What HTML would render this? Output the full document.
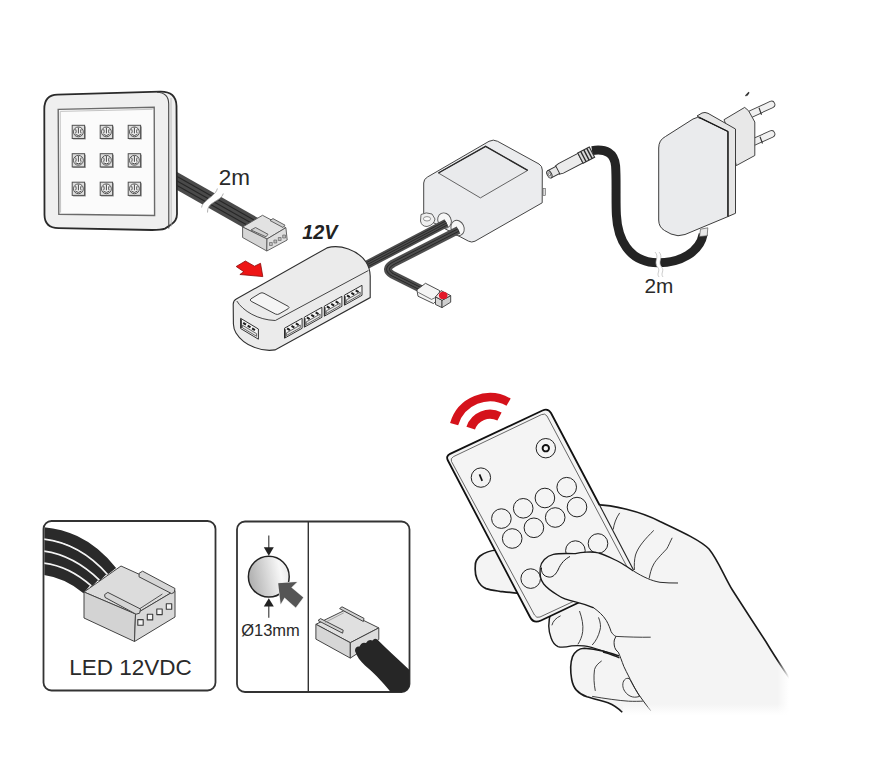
<!DOCTYPE html>
<html><head><meta charset="utf-8"><title>LED kit</title>
<style>
html,body{margin:0;padding:0;background:#fff;}
body{width:873px;height:759px;overflow:hidden;}
svg{display:block;font-family:"Liberation Sans",sans-serif;}
</style></head><body>
<svg width="873" height="759" viewBox="0 0 873 759">
<rect width="873" height="759" fill="#fff"/>
<g id="panelcable">
<polygon points="170,168.1 264,221.3 252,232.5 170,185.9" fill="#4a4a4a"/>
<line x1="170" y1="172.5" x2="262" y2="224.6" stroke="#262626" stroke-width="1.1"/>
<line x1="170" y1="177.0" x2="262" y2="229.1" stroke="#262626" stroke-width="1.1"/>
<line x1="170" y1="181.4" x2="262" y2="233.5" stroke="#262626" stroke-width="1.1"/>
<path d="M217.4,188.5 C216,194 210,197 206.4,200.7 C203.5,203 201.8,205 201.6,207.5 L207.5,212.5 C207.5,208 209,205.5 211.9,203.5 C217,200 222,198 223.3,193.5 Z" fill="#fff"/>
<path d="M217.4,188.5 C216,194 210,197 206.4,200.7 C203.5,203 201.8,205 201.6,207.5 M223.3,193.5 C222,198 217,200 211.9,203.5 C209,205.5 207.5,208 207.5,212.5" fill="none" stroke="#9a9a9a" stroke-width="0.8"/>
</g>
<path d="M44.3,109 C44.3,100 48.5,94.8 57.5,94.6 L160,91.6 Q176.2,91.2 176.5,106 L177,214 Q177,221 170.5,225 L165,228.6 Q161,230 152,230 L58.5,228.2 C49.5,228 44.6,223.5 44.5,215 Z" fill="#efefef" stroke="#2a2a2a" stroke-width="1.8"/>
<path d="M157,92.2 Q168.7,92.5 168.7,104 L168.8,228.6" fill="none" stroke="#444" stroke-width="1.1"/>
<path d="M171,98 L171.2,226.5" stroke="#b0b0b0" stroke-width="0.8"/>
<polygon points="58.2,109.4 154.2,107.3 154.6,215.5 58.8,214.3" fill="#fbfbfb" stroke="#6a6a6a" stroke-width="1.4"/>
<polyline points="60.6,212.6 60.2,111.4 152.6,109.3" fill="none" stroke="#c4c4c4" stroke-width="1"/>
<path d="M84.4,125.5 L85.8,126.7 L85.8,139.5 L73.4,139.5 L72.2,138.8 Z" fill="#9a9a9a"/>
<rect x="72.2" y="125.3" width="12.4" height="13.2" fill="#dedede" stroke="#505050" stroke-width="1"/>
<circle cx="78.4" cy="131.9" r="4.9" fill="#f2f2f2" stroke="#444" stroke-width="0.9"/>
<path d="M78.4,127.6 V133.4 M75.7,129.2 Q76.7,131.4 75.7,133.4 M81.1,129.2 Q80.1,131.4 81.1,133.4 M75.5,134.4 Q78.4,136.6 81.3,134.4" stroke="#333" stroke-width="0.9" fill="none"/>
<path d="M84.4,153.9 L85.8,155.1 L85.8,167.9 L73.4,167.9 L72.2,167.2 Z" fill="#9a9a9a"/>
<rect x="72.2" y="153.7" width="12.4" height="13.2" fill="#dedede" stroke="#505050" stroke-width="1"/>
<circle cx="78.4" cy="160.3" r="4.9" fill="#f2f2f2" stroke="#444" stroke-width="0.9"/>
<path d="M78.4,156.0 V161.8 M75.7,157.6 Q76.7,159.8 75.7,161.8 M81.1,157.6 Q80.1,159.8 81.1,161.8 M75.5,162.8 Q78.4,165.0 81.3,162.8" stroke="#333" stroke-width="0.9" fill="none"/>
<path d="M84.4,182.4 L85.8,183.6 L85.8,196.4 L73.4,196.4 L72.2,195.7 Z" fill="#9a9a9a"/>
<rect x="72.2" y="182.2" width="12.4" height="13.2" fill="#dedede" stroke="#505050" stroke-width="1"/>
<circle cx="78.4" cy="188.8" r="4.9" fill="#f2f2f2" stroke="#444" stroke-width="0.9"/>
<path d="M78.4,184.5 V190.3 M75.7,186.1 Q76.7,188.3 75.7,190.3 M81.1,186.1 Q80.1,188.3 81.1,190.3 M75.5,191.3 Q78.4,193.5 81.3,191.3" stroke="#333" stroke-width="0.9" fill="none"/>
<path d="M112.4,125.5 L113.8,126.7 L113.8,139.5 L101.4,139.5 L100.2,138.8 Z" fill="#9a9a9a"/>
<rect x="100.2" y="125.3" width="12.4" height="13.2" fill="#dedede" stroke="#505050" stroke-width="1"/>
<circle cx="106.4" cy="131.9" r="4.9" fill="#f2f2f2" stroke="#444" stroke-width="0.9"/>
<path d="M106.4,127.6 V133.4 M103.7,129.2 Q104.7,131.4 103.7,133.4 M109.1,129.2 Q108.1,131.4 109.1,133.4 M103.5,134.4 Q106.4,136.6 109.3,134.4" stroke="#333" stroke-width="0.9" fill="none"/>
<path d="M112.4,153.9 L113.8,155.1 L113.8,167.9 L101.4,167.9 L100.2,167.2 Z" fill="#9a9a9a"/>
<rect x="100.2" y="153.7" width="12.4" height="13.2" fill="#dedede" stroke="#505050" stroke-width="1"/>
<circle cx="106.4" cy="160.3" r="4.9" fill="#f2f2f2" stroke="#444" stroke-width="0.9"/>
<path d="M106.4,156.0 V161.8 M103.7,157.6 Q104.7,159.8 103.7,161.8 M109.1,157.6 Q108.1,159.8 109.1,161.8 M103.5,162.8 Q106.4,165.0 109.3,162.8" stroke="#333" stroke-width="0.9" fill="none"/>
<path d="M112.4,182.4 L113.8,183.6 L113.8,196.4 L101.4,196.4 L100.2,195.7 Z" fill="#9a9a9a"/>
<rect x="100.2" y="182.2" width="12.4" height="13.2" fill="#dedede" stroke="#505050" stroke-width="1"/>
<circle cx="106.4" cy="188.8" r="4.9" fill="#f2f2f2" stroke="#444" stroke-width="0.9"/>
<path d="M106.4,184.5 V190.3 M103.7,186.1 Q104.7,188.3 103.7,190.3 M109.1,186.1 Q108.1,188.3 109.1,190.3 M103.5,191.3 Q106.4,193.5 109.3,191.3" stroke="#333" stroke-width="0.9" fill="none"/>
<path d="M140.4,125.5 L141.8,126.7 L141.8,139.5 L129.4,139.5 L128.2,138.8 Z" fill="#9a9a9a"/>
<rect x="128.2" y="125.3" width="12.4" height="13.2" fill="#dedede" stroke="#505050" stroke-width="1"/>
<circle cx="134.4" cy="131.9" r="4.9" fill="#f2f2f2" stroke="#444" stroke-width="0.9"/>
<path d="M134.4,127.6 V133.4 M131.7,129.2 Q132.7,131.4 131.7,133.4 M137.1,129.2 Q136.1,131.4 137.1,133.4 M131.5,134.4 Q134.4,136.6 137.3,134.4" stroke="#333" stroke-width="0.9" fill="none"/>
<path d="M140.4,153.9 L141.8,155.1 L141.8,167.9 L129.4,167.9 L128.2,167.2 Z" fill="#9a9a9a"/>
<rect x="128.2" y="153.7" width="12.4" height="13.2" fill="#dedede" stroke="#505050" stroke-width="1"/>
<circle cx="134.4" cy="160.3" r="4.9" fill="#f2f2f2" stroke="#444" stroke-width="0.9"/>
<path d="M134.4,156.0 V161.8 M131.7,157.6 Q132.7,159.8 131.7,161.8 M137.1,157.6 Q136.1,159.8 137.1,161.8 M131.5,162.8 Q134.4,165.0 137.3,162.8" stroke="#333" stroke-width="0.9" fill="none"/>
<path d="M140.4,182.4 L141.8,183.6 L141.8,196.4 L129.4,196.4 L128.2,195.7 Z" fill="#9a9a9a"/>
<rect x="128.2" y="182.2" width="12.4" height="13.2" fill="#dedede" stroke="#505050" stroke-width="1"/>
<circle cx="134.4" cy="188.8" r="4.9" fill="#f2f2f2" stroke="#444" stroke-width="0.9"/>
<path d="M134.4,184.5 V190.3 M131.7,186.1 Q132.7,188.3 131.7,190.3 M137.1,186.1 Q136.1,188.3 137.1,190.3 M131.5,191.3 Q134.4,193.5 137.3,191.3" stroke="#333" stroke-width="0.9" fill="none"/>
<text x="218.8" y="185" font-size="22.5" fill="#2a2a2a">2m</text>
<g stroke="#555" stroke-width="0.9" stroke-linejoin="round">
<polygon points="242.6,227 262.5,215.3 285.9,227.7 267,239" fill="#e2e2e2"/>
<polygon points="242.6,227 267,239 266.8,251 242.6,237.5" fill="#d6d6d6"/>
<polygon points="267,239 285.9,227.7 287.2,240 266.8,251" fill="#dedede"/>
<path d="M251,230 L255.5,227.5 L268,234.3 L266,236.8 Z" fill="#d0d0d0"/>
<path d="M270,220.5 L273,218.6 L285,225.2 L283,227.5 Z" fill="#d0d0d0"/>
<rect x="269.5" y="242.5" width="2.8" height="3" fill="#bbb" stroke="#555" stroke-width="0.6"/>
<rect x="273.9" y="240.0" width="2.8" height="3" fill="#bbb" stroke="#555" stroke-width="0.6"/>
<rect x="278.3" y="237.5" width="2.8" height="3" fill="#bbb" stroke="#555" stroke-width="0.6"/>
<rect x="282.7" y="235.0" width="2.8" height="3" fill="#bbb" stroke="#555" stroke-width="0.6"/>
</g>
<text x="302.3" y="239.2" font-size="19.8" font-weight="bold" font-style="italic" fill="#222">12V</text>
<polygon points="236.2,266.5 245.4,261 254.5,266.2 260.5,263.3 262.8,276.6 239.9,274.5 243.8,271.7" fill="#ee1515" stroke="#8a0a0a" stroke-width="0.8" stroke-linejoin="round"/>
<path d="M423.7,183 Q423.7,179 427.5,177 L489,141.3 Q493.3,139 497.6,141.3 L539,164 Q542.3,166 542.3,170 L542.2,202.8 L475,241.2 Q471.7,242.9 468.4,241.1 L426.5,219 Q423.7,217.5 423.7,214 Z" fill="#ebecee" stroke="#3c3c3c" stroke-width="0.95"/>
<polygon points="438.4,173 485.6,146.3 527.7,170.4 480.4,197.9" fill="#e9eaec" stroke="#555" stroke-width="0.9"/>
<path d="M438.4,173 L485.6,146.3 L527.7,170.4" stroke="#2a2a2a" stroke-width="1.4" fill="none" stroke-linejoin="round"/>
<rect x="543" y="188.5" width="2.3" height="7" fill="#ddd" stroke="#555" stroke-width="0.6"/>
<path d="M421,214.5 Q426,211.5 432,214 L435,219 Q434,225 427,226.5 Q421.5,226.5 420.5,221 Z" fill="#efefef" stroke="#555" stroke-width="0.9"/>
<ellipse cx="427" cy="218.8" rx="3.6" ry="2.2" fill="#fafafa" stroke="#666" stroke-width="0.7"/>
<ellipse cx="444.5" cy="220.5" rx="6.6" ry="7.8" transform="rotate(-25 444.5 220.5)" fill="#f7f7f7" stroke="#555" stroke-width="0.9"/>
<ellipse cx="457.6" cy="228" rx="6.4" ry="7.9" transform="rotate(-25 457.6 228)" fill="#f7f7f7" stroke="#555" stroke-width="0.9"/>
<path d="M365.5,265.5 L446.5,223" stroke="#4e4e4e" stroke-width="8.6" fill="none"/>
<path d="M365.5,265.5 L446.5,223" stroke="#262626" stroke-width="5.1" fill="none"/>
<path d="M365.5,265.5 L446.5,223" stroke="#4e4e4e" stroke-width="3.5" fill="none"/>
<path d="M365.5,265.5 L446.5,223" stroke="#262626" stroke-width="0.9" fill="none"/>
<path d="M458.5,230 L393,263.5 Q383.5,269 392,274.5 L421,289" stroke="#4e4e4e" stroke-width="8" fill="none" stroke-linejoin="round"/>
<path d="M458.5,230 L393,263.5 Q383.5,269 392,274.5 L421,289" stroke="#262626" stroke-width="3.6" fill="none" stroke-linejoin="round"/>
<path d="M458.5,230 L393,263.5 Q383.5,269 392,274.5 L421,289" stroke="#4e4e4e" stroke-width="1.9" fill="none" stroke-linejoin="round"/>
</g>
<g stroke="#3a3a3a" stroke-width="0.9" stroke-linejoin="round">
<polygon points="416.9,289.8 425.5,283.3 439.5,290.5 439.5,297.5 433.5,303.6 418,296.2" fill="#f4f4f4"/>
<path d="M418.3,292.4 L431.5,299.4 L436.5,297" fill="none" stroke-width="0.7"/>
<polygon points="435.5,296.8 442,300.3 442,307.6 435.5,304.5" fill="#d6d6d6"/>
<polygon points="442,300.3 450.7,295.6 450.7,302.2 442,307.6" fill="#cfcfcf"/>
<polygon points="435.5,296.8 441,290.6 450.7,295.6 442,300.3" fill="#f2e4e4"/>
<ellipse cx="443.2" cy="295.4" rx="4.3" ry="3.7" fill="#e3192a" stroke="none"/>
</g>
<path d="M236.3,299 L326.9,247.9 C340,244 358,250 366,262 Q370,268 370.2,276 L370.2,297.6 L275,349.9 C262,352 244,346 236,333 Q233.6,329 233.4,324 L233.2,304 Q233.4,300.6 236.3,299 Z" fill="#ebebeb" stroke="#2e2e2e" stroke-width="1.1"/>
<path d="M236.8,301 C243,311 258,320 275.3,320.5 L368.4,270.5" fill="none" stroke="#444" stroke-width="1"/>
<path d="M251,298.8 L260,293.3 Q262,292.2 264,293.3 L288.3,306.4 Q290,307.6 288,308.8 L279,314 Q277.4,314.9 275.4,314 L251.2,301.3 Q249.3,300 251,298.8 Z" fill="#f5f5f5" stroke="#444" stroke-width="1"/>
<polygon points="284.5,328.2 302.1,318.3 302.1,328.3 284.5,338.2" fill="#f6f6f6" stroke="#333" stroke-width="1"/><line x1="287.1" y1="328.3" x2="289.9" y2="330.1" stroke="#1e1e1e" stroke-width="2"/><line x1="291.5" y1="325.9" x2="294.3" y2="327.7" stroke="#1e1e1e" stroke-width="2"/><line x1="295.9" y1="323.4" x2="298.7" y2="325.2" stroke="#1e1e1e" stroke-width="2"/><path d="M286.3,333.0 L300.3,325.1 L300.3,327.7 L286.3,335.6 Z" fill="#e6e6e6" stroke="#444" stroke-width="0.8"/><line x1="285.1" y1="329.2" x2="285.1" y2="337.7" stroke="#222" stroke-width="1.2"/>
<polygon points="304.3,317.2 321.9,307.3 321.9,317.3 304.3,327.2" fill="#f6f6f6" stroke="#333" stroke-width="1"/><line x1="306.9" y1="317.3" x2="309.7" y2="319.1" stroke="#1e1e1e" stroke-width="2"/><line x1="311.3" y1="314.9" x2="314.1" y2="316.7" stroke="#1e1e1e" stroke-width="2"/><line x1="315.7" y1="312.4" x2="318.5" y2="314.2" stroke="#1e1e1e" stroke-width="2"/><path d="M306.1,322.0 L320.1,314.1 L320.1,316.7 L306.1,324.6 Z" fill="#e6e6e6" stroke="#444" stroke-width="0.8"/><line x1="304.9" y1="318.2" x2="304.9" y2="326.7" stroke="#222" stroke-width="1.2"/>
<polygon points="324.3,306.2 341.9,296.3 341.9,306.3 324.3,316.2" fill="#f6f6f6" stroke="#333" stroke-width="1"/><line x1="326.9" y1="306.3" x2="329.7" y2="308.1" stroke="#1e1e1e" stroke-width="2"/><line x1="331.3" y1="303.9" x2="334.1" y2="305.7" stroke="#1e1e1e" stroke-width="2"/><line x1="335.7" y1="301.4" x2="338.5" y2="303.2" stroke="#1e1e1e" stroke-width="2"/><path d="M326.1,311.0 L340.1,303.1 L340.1,305.7 L326.1,313.6 Z" fill="#e6e6e6" stroke="#444" stroke-width="0.8"/><line x1="324.9" y1="307.2" x2="324.9" y2="315.7" stroke="#222" stroke-width="1.2"/>
<polygon points="344.4,295.2 362.0,285.3 362.0,295.3 344.4,305.2" fill="#f6f6f6" stroke="#333" stroke-width="1"/><line x1="347.0" y1="295.3" x2="349.8" y2="297.1" stroke="#1e1e1e" stroke-width="2"/><line x1="351.4" y1="292.9" x2="354.2" y2="294.7" stroke="#1e1e1e" stroke-width="2"/><line x1="355.8" y1="290.4" x2="358.6" y2="292.2" stroke="#1e1e1e" stroke-width="2"/><path d="M346.2,300.0 L360.2,292.1 L360.2,294.7 L346.2,302.6 Z" fill="#e6e6e6" stroke="#444" stroke-width="0.8"/><line x1="345.0" y1="296.2" x2="345.0" y2="304.7" stroke="#222" stroke-width="1.2"/>
<polygon points="240.6,318.3 258.4,329.0 258.4,339.2 240.6,328.5" fill="#f6f6f6" stroke="#333" stroke-width="1"/><line x1="243.2" y1="322.9" x2="246.0" y2="324.7" stroke="#1e1e1e" stroke-width="2"/><line x1="247.7" y1="325.6" x2="250.5" y2="327.4" stroke="#1e1e1e" stroke-width="2"/><line x1="252.1" y1="328.3" x2="254.9" y2="330.1" stroke="#1e1e1e" stroke-width="2"/><path d="M242.4,325.2 L256.6,333.7 L256.6,336.3 L242.4,327.8 Z" fill="#e6e6e6" stroke="#444" stroke-width="0.8"/><line x1="241.2" y1="319.3" x2="241.2" y2="328.0" stroke="#222" stroke-width="1.2"/>
<path d="M592,150.6 C606,148.5 614.5,153 615.6,166 C616.6,180 615.6,200 616.4,215 C617.6,238 628,262.5 658,262.8 C680,263 700,252 703.2,234" stroke="#242424" stroke-width="9" fill="none"/>
<path d="M657,252 C662,257 655,262 659.5,267 C663,271 658,273 661,277" stroke="#fff" stroke-width="4" fill="none"/>
<path d="M655,252 C660,257 653,262 657.5,267 C661,271 656,273 659,277 M659,252 C664,257 657,262 661.5,267 C665,271 660,273 663,277" stroke="#aaa" stroke-width="0.6" fill="none"/>
<text x="644.4" y="293.4" font-size="20.8" fill="#2a2a2a">2m</text>
<g transform="translate(548.5,174.8) rotate(-27.5)" stroke="#333" stroke-width="0.9">
<path d="M10,-4.6 L14,-5.4 L36,-5.4 L36,5.4 L14,5.4 L10,4.6 Z" fill="#ececec"/>
<rect x="36" y="-5.8" width="13" height="11.6" fill="#d8d8d8" stroke-width="1.1"/>
<line x1="39.4" y1="-5.8" x2="39.4" y2="5.8" stroke="#2a2a2a" stroke-width="1.4"/>
<line x1="42.8" y1="-5.8" x2="42.8" y2="5.8" stroke="#2a2a2a" stroke-width="1.4"/>
<line x1="46.2" y1="-5.8" x2="46.2" y2="5.8" stroke="#2a2a2a" stroke-width="1.4"/>
<rect x="1" y="-4" width="9.5" height="8" fill="#e6e6e6"/>
<ellipse cx="1" cy="0" rx="2.2" ry="4" fill="#ddd"/>
<ellipse cx="1" cy="0" rx="1" ry="1.8" fill="#fff" stroke-width="0.6"/>
</g>
<g stroke="#333" stroke-width="0.95" stroke-linejoin="round">
<path d="M751,114 L771.5,104.5" stroke="#444" stroke-width="7.6" stroke-linecap="round"/>
<path d="M751,114 L771.5,104.5" stroke="#f0f0f0" stroke-width="5.8" stroke-linecap="round"/>
<path d="M752.5,142.5 L771.5,134" stroke="#444" stroke-width="7.6" stroke-linecap="round"/>
<path d="M752.5,142.5 L771.5,134" stroke="#f0f0f0" stroke-width="5.8" stroke-linecap="round"/>
<path d="M759,107.8 L761.5,114.8 M760,136.8 L762.5,143.5" stroke="#333" stroke-width="1.1"/>
<polygon points="724,119.7 744.7,107.4 748.6,110.8 754.8,122 754.8,155.5 736.3,165.6 728,130" fill="#e8e8e8" stroke="#444" stroke-width="1"/>
<path d="M697,116 L702,113 Q705,111.8 708,113.3 L735.5,129 L735.5,213.3 L727.9,216.6 L727.9,131.5 Z" fill="#e6e6e6"/>
<path d="M658.7,148 Q658.7,140 665.5,136.5 L693,119 Q697.6,116 701.5,118.5 L727.9,131.5 L727.9,216.6 L685,234.5 Q678,237.2 671,234 L664.5,230.5 Q658.7,227 658.7,220 Z" fill="#eaebed"/>
<path d="M699,117.4 L727.9,131.5 L727.9,216.6" stroke="#1a1a1a" stroke-width="1.15" fill="none"/>
<path d="M699.5,236.5 L700.5,229.2 L707.8,227.8 L707.2,235.8 Z" fill="#e8e8e8" stroke="#555" stroke-width="0.7"/>
</g>
<path d="M745.5,96 L749,92.3 L747,95.5" stroke="#333" stroke-width="1.3" fill="none"/>
<defs><linearGradient id="fadeD" x1="0" y1="0" x2="0" y2="1"><stop offset="0" stop-color="#fff" stop-opacity="0"/><stop offset="1" stop-color="#fff" stop-opacity="1"/></linearGradient><linearGradient id="fadeR" x1="0" y1="0" x2="1" y2="0"><stop offset="0" stop-color="#fff" stop-opacity="0"/><stop offset="1" stop-color="#fff" stop-opacity="1"/></linearGradient></defs>
<path d="M596,503 C612,504 640,511 660,521.5 C680,531 700,540 709,549 C718,560 725,578 732.4,590 C742,605 755,625 765.8,641.5 C775,657 782,667 792,682 L798,718 L626,718 L622.2,712.3 L612,690 L600,662 L575,640 L560,615 L600,590 Z" fill="#f4f4f4"/>
<path d="M596,504.6 C612,505 640,511 660,521.5 C680,531 700,540 709,549 C718,560 725,578 732.4,590 C742,605 755,625 765.8,641.5 C775,657 782,667 790,679" fill="none" stroke="#1a1a1a" stroke-width="1.6"/>
<g fill="none" stroke="#2a2a2a" stroke-width="0.9">
<path d="M619.7,512.9 C616,518 614,524 613.2,529.5"/>
<path d="M653.8,530.4 C645,539 638,547 635.5,555 C634.2,560 634.2,565 634.4,570"/>
<path d="M672.2,537.8 C670,542 668.5,546 666.7,548.9 C661,555 656,560 653.8,564 C651,569 650,574 649.2,578.4"/>
</g>
<path d="M497,550 C490,550.5 484.8,552.4 480,556 C476.5,559 475.2,563 475.3,566 C475,570 475.6,576 477,579 C479,583.5 482,587 486.1,588.6 C490,590 495.3,590.6 500,591.3 C506,592 510,592.5 520,593.5 L515,560 Z" fill="#f4f4f4" stroke="#1a1a1a" stroke-width="1.7"/>
<path d="M551,612 C548.5,620 548,630 551.1,638 C552.5,642 554.5,645 558,646.6 C561,647.6 565,647.4 571.6,645.9 C576,645.5 580,645.6 584,645.9 C590,646.4 597,649 606.4,652.2 L619,656.9 L618,630 L600,605 Z" fill="#f4f4f4"/>
<path d="M551,612 C548.5,620 548,630 551.1,638 C552.5,642 554.5,645 558,646.6 C561,647.6 565,647.4 571.6,645.9 C576,645.5 580,645.6 584,645.9 C590,646.4 597,649 606.4,652.2 L619,656.9" fill="none" stroke="#1a1a1a" stroke-width="1.4"/>
<path d="M619,656.1 C610,652.5 600,649.5 584.3,648.2 C579,648.4 575,651 572.4,656.9 C570.6,662 570.5,672 571.6,679 C572.5,684 574,687.5 576.4,690.1 C579,693 583,695.5 587,696.8 C592,698.3 600,700.5 608,702.8 C613,704.8 617,707 622.2,712.3 L650,712 Z" fill="#f4f4f4"/>
<path d="M619,656.1 C610,652.5 600,649.5 584.3,648.2 C579,648.4 575,651 572.4,656.9 C570.6,662 570.5,672 571.6,679 C572.5,684 574,687.5 576.4,690.1 C579,693 583,695.5 587,696.8 C592,698.3 600,700.5 608,702.8 C613,704.8 617,707 622.2,712.3" fill="none" stroke="#1a1a1a" stroke-width="1.6"/>
<path d="M603,652 C610,654 615,655.5 619.5,658" fill="none" stroke="#1a1a1a" stroke-width="1.4"/>
<g fill="none" stroke="#2a2a2a" stroke-width="0.9">
<path d="M560.6,615.8 C556,618 553,621 551.9,625.3"/>
<path d="M579.5,611 C582,618 583.5,625 582.7,631.6 C582,637 580,641 577.9,644.3"/>
<path d="M598.5,617.4 C600.5,622 601,627 600,630 C598.5,636 596,641 592.2,645"/>
<path d="M601.7,660.9 C598,663.5 595.5,666 594.5,669.6 C593.5,677 594,684 595.3,690.9"/>
<path d="M624,690 C622,686 622.5,681 625.4,679 C627,678 629,678 630,679.5 L639.6,696.4 C636,697.5 633,697.5 630,696 C627,694.5 625.5,692.5 624,690 Z"/>
<path d="M592.2,696.4 C605,698.5 618,700.5 628.5,701.2 C634,701.5 640,701.2 642.8,701.2"/>
</g>
<path d="M450.1,453.9 L542.5,410.5 Q548,408 551,413 L633.5,570 Q636.5,575.5 631,578 L541,620.5 Q533.5,624 530,617 L447.9,460.5 Q445.6,456.1 450.1,453.9 Z" fill="#f4f4f4"/>
<path d="M599.5,505 L551,413 Q548,408 542.5,410.5 L450.1,453.9 Q445.6,456.1 447.9,460.5 L530,617 Q533.5,624 541,620.5 L600,592.5" fill="none" stroke="#111" stroke-width="1.8"/>
<path d="M599.5,505 L633.5,570" fill="none" stroke="#222" stroke-width="1.1"/>
<path d="M453.5,456.6 L541.5,414.6 Q545,413 547,416 L629.5,571.5 Q631,574.5 628,576 L540,617 Q536.5,618.5 534.5,615 L451.5,461.5 Q450,458.5 453.5,456.6 Z" fill="none" stroke="#444" stroke-width="0.8"/>
<path d="M454.1,424.2 A37.3,37.3 0 0 1 508.6,402.2" stroke="#d5121b" stroke-width="8.4" fill="none"/>
<path d="M470.7,428.2 A20.3,20.3 0 0 1 499.5,416.6" stroke="#d5121b" stroke-width="9" fill="none"/>
<circle cx="501.4" cy="518.6" r="9.8" fill="#f4f4f4" stroke="#222" stroke-width="1"/>
<circle cx="523.2" cy="508.3" r="9.8" fill="#f4f4f4" stroke="#222" stroke-width="1"/>
<circle cx="544.9" cy="498" r="9.8" fill="#f4f4f4" stroke="#222" stroke-width="1"/>
<circle cx="566.7" cy="487.2" r="9.8" fill="#f4f4f4" stroke="#222" stroke-width="1"/>
<circle cx="512.2" cy="538.5" r="9.8" fill="#f4f4f4" stroke="#222" stroke-width="1"/>
<circle cx="533.9" cy="527.8" r="9.8" fill="#f4f4f4" stroke="#222" stroke-width="1"/>
<circle cx="555.2" cy="517.5" r="9.8" fill="#f4f4f4" stroke="#222" stroke-width="1"/>
<circle cx="577" cy="507.1" r="9.8" fill="#f4f4f4" stroke="#222" stroke-width="1"/>
<circle cx="598" cy="543.5" r="9.8" fill="#f4f4f4" stroke="#222" stroke-width="1"/>
<circle cx="575.4" cy="550.6" r="9.8" fill="#f4f4f4" stroke="#222" stroke-width="1"/>
<circle cx="530.7" cy="578.6" r="9.8" fill="#f4f4f4" stroke="#222" stroke-width="1"/>
<circle cx="545.8" cy="448.2" r="9.7" fill="#f4f4f4" stroke="#222" stroke-width="1"/>
<circle cx="545.8" cy="448.2" r="3.2" fill="none" stroke="#111" stroke-width="1.9"/>
<circle cx="480.9" cy="477.6" r="9.7" fill="#f4f4f4" stroke="#222" stroke-width="1"/>
<line x1="479.5" y1="474.3" x2="482.2" y2="480.8" stroke="#111" stroke-width="1.7"/>
<path d="M540.3,567.5 C541,562 546,556 553.4,554.4 C560,553 570,553.5 575.4,553.7 C580,552.5 592,551 598.7,553 C606,555 613,559 619.3,562 C624,564.5 629,568 633.5,571 C643,577 652,581 660,582.3 L700,590 L700,640 L650,637 C640,636.5 632,636.5 626.2,636.2 C619,635.5 615,634 611.1,631.6 C609,628 607,623 604,618.5 C601,614 598,611 591.9,607.4 C586,604.5 580,603 575.4,601.9 C567,600 561,597.5 557.5,595 C551,591 546.5,587.5 543.7,584 C540.5,580 539.5,574 540.3,567.5 Z" fill="#f4f4f4"/>
<path d="M540.3,567.5 C541,562 546,556 553.4,554.4 C560,553 570,553.5 575.4,553.7 C580,552.5 592,551 598.7,553 C606,555 613,559 619.3,562 C624,564.5 629,568 633.5,571" fill="none" stroke="#1a1a1a" stroke-width="1.3"/>
<path d="M633.5,571 C643,577 652,581 660,582.3 C666,583 672,583 678,583" fill="none" stroke="#2a2a2a" stroke-width="1"/>
<path d="M540.3,567.5 C539.5,574 540.5,580 543.7,584 C546.5,587.5 551,591 557.5,595 C561,597.5 567,600 575.4,601.9 C580,603 586,604.5 593.8,607.9" fill="none" stroke="#1a1a1a" stroke-width="1.3"/>
<path d="M541.5,567.5 C541,572 543,576.5 549.2,577.1 C553,577.4 556,574 558,570 C561,563 565,559 570,556.5" fill="none" stroke="#1a1a1a" stroke-width="1"/>
<path d="M593.8,607.9 C598,611 603,615 606.4,620.6 C608.5,624.5 610,628 611.1,631.6 C612.5,634 614,635.5 615.9,636.4 L614.3,640 C613.8,643 614,647 616,650 L618.3,652.2 C620,656 621.8,661 623.8,666.4 C625.5,670 627,673 628.5,675.9 C631,681 633,685 634.9,688.5 C637,692 639,695 641.2,698 C644,702 647,706 650.7,710.7" fill="none" stroke="#2a2a2a" stroke-width="1"/>
<path d="M615.9,636.4 C628,637 640,637.4 650.7,637.2" fill="none" stroke="#2a2a2a" stroke-width="0.9"/>
<rect x="623" y="704" width="190" height="11" fill="url(#fadeD)"/>
<rect x="623" y="715" width="190" height="12" fill="#fff"/>
<rect x="777" y="640" width="12" height="90" fill="url(#fadeR)"/>
<rect x="789" y="640" width="20" height="90" fill="#fff"/>
<rect x="43.5" y="521" width="172" height="169.5" rx="8" fill="#fff" stroke="#333" stroke-width="1.8"/>
<clipPath id="cb1"><rect x="44.4" y="522" width="170" height="167" rx="7"/></clipPath>
<g clip-path="url(#cb1)">
<path d="M36,532.5 C62,533.5 88,542 111.5,571.6" stroke="#2a2a2a" stroke-width="11.8" fill="none"/>
<path d="M36,544.5 C60,545.5 82,556 103.45,577.3" stroke="#2a2a2a" stroke-width="11.8" fill="none"/>
<path d="M36,556.5 C58,557.5 77,566 95.35,583" stroke="#2a2a2a" stroke-width="11.8" fill="none"/>
<path d="M36,568.5 C55,569 72,576 87.25,588.7" stroke="#2a2a2a" stroke-width="11.8" fill="none"/>
<path d="M36,538.5 C61,539.5 85,549 107.5,574.5" stroke="#f4f4f4" stroke-width="1.7" fill="none"/>
<path d="M36,550.5 C59,551.5 79.5,561 99.4,580.2" stroke="#f4f4f4" stroke-width="1.7" fill="none"/>
<path d="M36,562.5 C56.5,563 74.5,571 91.3,585.9" stroke="#f4f4f4" stroke-width="1.7" fill="none"/>
</g>
<g stroke="#444" stroke-width="1" stroke-linejoin="round">
<polygon points="84,592 121,566 175,590.5 135.5,614" fill="#dcdcdc"/>
<polygon points="84,592 135.5,614 134.5,641.5 84,618" fill="#d3d3d3"/>
<polygon points="135.5,614 175,590.5 175,617 134.5,641.5" fill="#d9d9d9"/>
<path d="M162.4,594 L138.5,609.5" fill="none" stroke="#444" stroke-width="0.9"/>
<path d="M104.6,594.6 L107.8,592.4 L140.5,609 L139.6,613.2 L136,614.2 L105,597.4 Z" fill="#d6d6d6"/>
<path d="M139.2,573.2 L142.6,571.2 L175,588.5 L174.2,592.4 L171.6,593.6 L139,576.8 Z" fill="#d6d6d6"/>
<rect x="137.8" y="619.6" width="5.4" height="5.6" fill="#f4f4f4" stroke="#3a3a3a" stroke-width="1.1"/>
<rect x="147.3" y="614.3" width="5.4" height="5.6" fill="#f4f4f4" stroke="#3a3a3a" stroke-width="1.1"/>
<rect x="156.8" y="609.0" width="5.4" height="5.6" fill="#f4f4f4" stroke="#3a3a3a" stroke-width="1.1"/>
<rect x="166.3" y="603.7" width="5.4" height="5.6" fill="#f4f4f4" stroke="#3a3a3a" stroke-width="1.1"/>
</g>
<text x="69.3" y="675" font-size="22.5" fill="#2a2a2a">LED 12VDC</text>
<rect x="237" y="521.5" width="172.5" height="170.5" rx="8" fill="#fff" stroke="#333" stroke-width="1.8"/>
<line x1="308.3" y1="522" x2="308.3" y2="691" stroke="#333" stroke-width="1.4"/>
<defs><linearGradient id="ball" x1="0" y1="0.2" x2="1" y2="0"><stop offset="0" stop-color="#b4b4b4"/><stop offset="0.72" stop-color="#f7f7f7"/><stop offset="1" stop-color="#e4e4e4"/></linearGradient></defs>
<circle cx="268.8" cy="576.7" r="20.4" fill="url(#ball)" stroke="#222" stroke-width="1.5"/>
<path d="M268.8,535.6 L268.8,548" stroke="#333" stroke-width="1.1"/><polygon points="263.8,547.3 273.8,547.3 268.8,555.8" fill="#222"/>
<path d="M268.8,606 L268.8,617.8" stroke="#333" stroke-width="1.1"/><polygon points="263.8,606.6 273.8,606.6 268.8,598.2" fill="#222"/>
<polygon points="278.2,583.2 297,582 291.3,587.6 303.2,597.6 295.7,607.6 284.5,597.6 280.7,603.9" fill="#555" stroke="#e8e8e8" stroke-width="1.2" stroke-linejoin="round"/>
<polygon points="278.2,583.2 297,582 291.3,587.6 303.2,597.6 295.7,607.6 284.5,597.6 280.7,603.9" fill="#555"/>
<text x="241.2" y="635.9" font-size="16.5" fill="#2a2a2a">Ø13mm</text>
<clipPath id="cb2"><rect x="237" y="521.5" width="172.5" height="170.5" rx="8"/></clipPath>
<g stroke="#444" stroke-width="1" stroke-linejoin="round">
<polygon points="315.9,624.3 343.8,610.7 378.8,627.9 350.3,642.7" fill="#e0e0e0"/>
<polygon points="315.9,624.3 350.3,642.7 350.3,658.1 315.9,639.1" fill="#d6d6d6"/>
<polygon points="350.3,642.7 378.8,627.9 378.8,639.5 350.3,658.1" fill="#dcdcdc"/>
<path d="M318,620.5 L320.5,618.6 L343.2,630.2 L342.6,633.2 Z" fill="#d2d2d2"/>
<path d="M339.6,608.6 L342,606.8 L364,618.4 L363.4,621.5 Z" fill="#d2d2d2"/>
<path d="M325,622.5 L343.8,612.8" stroke="#888" stroke-width="0.7" fill="none"/>
</g>
<g clip-path="url(#cb2)">
<path d="M355,651 Q355,646 359.5,646.5 Q361.5,641.5 366,643 Q368.5,638.5 372.5,640.5 Q374.5,637.5 377,639.3 C388,650 400,661 412,672.5 L412,695 L393,695 C384,683 372,671 365,665.5 C360,661 357,656.5 355,651 Z" fill="#262626"/>
</g>
</svg>
</body></html>
